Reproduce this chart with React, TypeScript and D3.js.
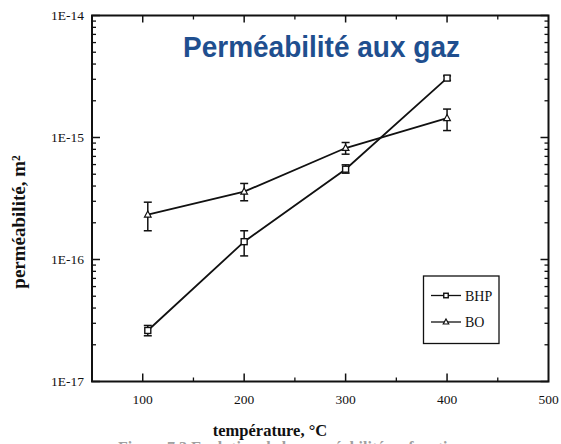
import React from "react";
import * as d3 from "d3";

// Temperatures (°C) and measured gas permeabilities (m²)
const temperatures = [105, 200, 300, 400];

const bhpValues = [2.62e-17, 1.4e-16, 5.5e-16, 3.07e-15];
const bhpLow = [2.37e-17, 1.07e-16, 5.1e-16, 2.94e-15];
const bhpHigh = [2.88e-17, 1.72e-16, 5.97e-16, 3.2e-15];

const boValues = [2.33e-16, 3.6e-16, 8.2e-16, 1.44e-15];
const boLow = [1.72e-16, 3.03e-16, 7.3e-16, 1.14e-15];
const boHigh = [2.95e-16, 4.2e-16, 9.1e-16, 1.71e-15];

const xTicks = [100, 200, 300, 400, 500];
const xMinorTicks = [150, 250, 350, 450];
const yTicks = [1e-17, 1e-16, 1e-15, 1e-14];
const yTickLabels = ["1E-17", "1E-16", "1E-15", "1E-14"];

const seriesNames = ["BHP", "BO"];

const W = 561;
const H = 444;
const left = 92;
const right = 548.5;
const top = 15.5;
const bottom = 381.5;

const serif = "'Liberation Serif', 'Times New Roman', serif";
const sans = "'Liberation Sans', Arial, sans-serif";

export default function App() {
  const x = d3.scaleLinear().domain([50, 500]).range([left, right]);
  const y = d3.scaleLog().domain([1e-17, 1e-14]).range([bottom, top]);

  // Log minor ticks (2..9 within each decade)
  const yMinor: number[] = [];
  for (let e = -17; e < -14; e++) {
    for (let m = 2; m <= 9; m++) yMinor.push(m * Math.pow(10, e));
  }

  const line = d3
    .line<[number, number]>()
    .x((d) => x(d[0]))
    .y((d) => y(d[1]));

  const bhpPts = temperatures.map((t, i) => [t, bhpValues[i]] as [number, number]);
  const boPts = temperatures.map((t, i) => [t, boValues[i]] as [number, number]);

  const errorBar = (t: number, lo: number, hi: number, key: string) => {
    const cx = x(t);
    const cap = 4;
    return (
      <g key={key} stroke="#111" strokeWidth={1.5}>
        <line x1={cx} x2={cx} y1={y(lo)} y2={y(hi)} />
        <line x1={cx - cap} x2={cx + cap} y1={y(lo)} y2={y(lo)} />
        <line x1={cx - cap} x2={cx + cap} y1={y(hi)} y2={y(hi)} />
      </g>
    );
  };

  const square = (cx: number, cy: number, s: number, key: string) => (
    <rect key={key} x={cx - s / 2} y={cy - s / 2} width={s} height={s} fill="#fff" stroke="#111" strokeWidth={1.4} />
  );
  const triangle = (cx: number, cy: number, s: number, key: string) => (
    <path
      key={key}
      d={`M${cx},${cy - s * 0.6} L${cx + s * 0.55},${cy + s * 0.4} L${cx - s * 0.55},${cy + s * 0.4} Z`}
      fill="#fff"
      stroke="#111"
      strokeWidth={1.2}
    />
  );

  const legX1 = 431;
  const legX2 = 461;
  const legY = [295.5, 322];

  return (
    <svg
      width={W}
      height={H}
      viewBox={`0 0 ${W} ${H}`}
      style={{ position: "absolute", left: 0, top: 0, background: "#fff" }}
    >
      {/* Frame */}
      <rect x={left} y={top} width={right - left} height={bottom - top} fill="none" stroke="#111" strokeWidth={2} />

      {/* X ticks (bottom and top, inward) */}
      {xTicks.slice(0, 4).map((t) => (
        <g key={`xt${t}`} stroke="#111" strokeWidth={1.5}>
          <line x1={x(t)} x2={x(t)} y1={bottom} y2={bottom - 8} />
          <line x1={x(t)} x2={x(t)} y1={top} y2={top + 7} />
        </g>
      ))}
      {xMinorTicks.map((t) => (
        <g key={`xm${t}`} stroke="#111" strokeWidth={1.3}>
          <line x1={x(t)} x2={x(t)} y1={bottom} y2={bottom - 4} />
          <line x1={x(t)} x2={x(t)} y1={top} y2={top + 4} />
        </g>
      ))}

      {/* Y ticks (left and right, inward) */}
      {yTicks.map((t) => (
        <g key={`yt${t}`} stroke="#111" strokeWidth={1.5}>
          <line x1={left} x2={left + 8} y1={y(t)} y2={y(t)} />
          <line x1={right} x2={right - 8} y1={y(t)} y2={y(t)} />
        </g>
      ))}
      {yMinor.map((t, i) => (
        <g key={`ym${i}`} stroke="#111" strokeWidth={1.3}>
          <line x1={left} x2={left + 4} y1={y(t)} y2={y(t)} />
          <line x1={right} x2={right - 4} y1={y(t)} y2={y(t)} />
        </g>
      ))}

      {/* Tick labels */}
      {xTicks.map((t) => (
        <text key={`xl${t}`} x={x(t)} y={404} textAnchor="middle" fontFamily={serif} fontSize={13.5} fill="#111">
          {t}
        </text>
      ))}
      {yTicks.map((t, i) => (
        <text
          key={`yl${t}`}
          x={84}
          y={y(t) + 4.5}
          textAnchor="end"
          fontFamily={serif}
          fontSize={13.5}
          fill="#111"
        >
          {yTickLabels[i]}
        </text>
      ))}

      {/* Axis titles */}
      <text x={270} y={436} textAnchor="middle" fontFamily={serif} fontWeight="bold" fontSize={16.5} fill="#111">
        température, °C
      </text>
      <text
        transform={`translate(25,222) rotate(-90)`}
        textAnchor="middle"
        fontFamily={serif}
        fontWeight="bold"
        fontSize={19}
        fill="#111"
      >
        perméabilité, m²
      </text>

      {/* Series lines */}
      <path d={line(bhpPts) || ""} fill="none" stroke="#111" strokeWidth={1.8} />
      <path d={line(boPts) || ""} fill="none" stroke="#111" strokeWidth={1.8} />

      {/* Error bars */}
      {temperatures.map((t, i) => errorBar(t, bhpLow[i], bhpHigh[i], `eb${i}`))}
      {temperatures.map((t, i) => errorBar(t, boLow[i], boHigh[i], `eo${i}`))}

      {/* Markers */}
      {bhpPts.map((p, i) => square(x(p[0]), y(p[1]), 6, `sq${i}`))}
      {boPts.map((p, i) => triangle(x(p[0]), y(p[1]), 6, `tr${i}`))}

      {/* Legend */}
      <rect x={423.5} y={276} width={75.5} height={67.5} fill="#fff" stroke="#111" strokeWidth={1.3} />
      {seriesNames.map((name, i) => (
        <g key={name}>
          <line x1={legX1} x2={legX2} y1={legY[i]} y2={legY[i]} stroke="#111" strokeWidth={1.3} />
          {i === 0
            ? square((legX1 + legX2) / 2, legY[i], 4.5, "lsq")
            : triangle((legX1 + legX2) / 2, legY[i], 5, "ltr")}
          <text x={465} y={legY[i] + 5} fontFamily={serif} fontSize={14} fill="#111">
            {name}
          </text>
        </g>
      ))}

      {/* Title */}
      <text
        x={321.5}
        y={57}
        textAnchor="middle"
        fontFamily={sans}
        fontWeight="bold"
        fontSize={29}
        textLength={277}
        lengthAdjust="spacingAndGlyphs"
        fill="#1f4f8f"
      >
        Perméabilité aux gaz
      </text>

      {/* Caption, cut by the bottom edge */}
      <text x={118} y={453} fontFamily={serif} fontWeight="bold" fontSize={16} fill="#a0a0a0">
        Figure 7.3 Evolution de la perméabilité en fonction
      </text>
    </svg>
  );
}
